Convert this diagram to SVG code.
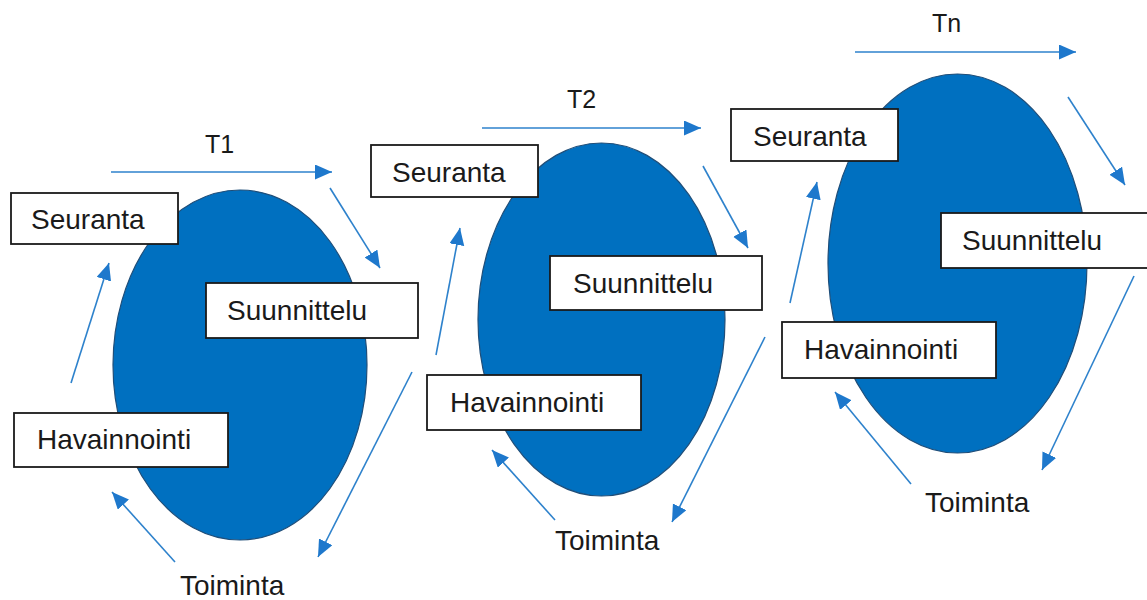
<svg xmlns="http://www.w3.org/2000/svg" width="1147" height="600" viewBox="0 0 1147 600">
  <style>
    .cycle { fill: #0070C0; stroke: #1F4E79; stroke-width: 1.2; }
    .box { fill: #FFFFFF; stroke: #1A1A1A; stroke-width: 1.8; }
    .lbl { font-family: "Liberation Sans", Arial, sans-serif; font-size: 28px; fill: #1A1A1A; }
    .tlbl { font-family: "Liberation Sans", Arial, sans-serif; font-size: 25px; fill: #1A1A1A; }
    .flow { stroke: #2E82CC; stroke-width: 1.6; fill: none; marker-end: url(#head); }
  </style>
  <defs>
    <marker id="head" markerUnits="userSpaceOnUse" markerWidth="18" markerHeight="16" refX="17" refY="7.5" orient="auto">
      <path d="M0,0 L17,7.5 L0,15 z" fill="#1E78CC"/>
    </marker>
  </defs>

  <rect width="1147" height="600" fill="#FFFFFF"/>

  <!-- cycle bodies -->
  <g id="cycle-1"><ellipse class="cycle" cx="240" cy="365" rx="127" ry="175"/></g>
  <g id="cycle-2"><ellipse class="cycle" cx="601.5" cy="319.5" rx="123.5" ry="176.5"/></g>
  <g id="cycle-n"><ellipse class="cycle" cx="957.5" cy="263.5" rx="129.5" ry="189.5"/></g>

  <!-- connectors -->
  <g id="connectors">
    <!-- cycle 1 -->
    <line class="flow" x1="111" y1="172" x2="332" y2="172"/>
    <line class="flow" x1="330" y1="188" x2="380" y2="268"/>
    <line class="flow" x1="412" y1="372" x2="318" y2="557"/>
    <line class="flow" x1="175" y1="562" x2="112" y2="492"/>
    <line class="flow" x1="71" y1="383" x2="109" y2="263"/>
    <!-- cycle 2 -->
    <line class="flow" x1="482" y1="128" x2="701" y2="128"/>
    <line class="flow" x1="703" y1="166" x2="748" y2="248"/>
    <line class="flow" x1="765" y1="337" x2="672" y2="522"/>
    <line class="flow" x1="555" y1="520" x2="492" y2="450"/>
    <line class="flow" x1="436" y1="355" x2="460" y2="228"/>
    <!-- cycle n -->
    <line class="flow" x1="855" y1="52" x2="1076" y2="52"/>
    <line class="flow" x1="1068" y1="97" x2="1125" y2="185"/>
    <line class="flow" x1="1134" y1="276" x2="1042" y2="470"/>
    <line class="flow" x1="911" y1="484" x2="835" y2="392"/>
    <line class="flow" x1="790" y1="303" x2="817" y2="182"/>
  </g>

  <!-- cycle 1 labels -->
  <g id="t1"><text class="tlbl" x="205" y="153">T1</text></g>
  <g id="seuranta-1">
    <rect class="box" x="11" y="193" width="167" height="51"/>
    <text class="lbl" x="31" y="229">Seuranta</text>
  </g>
  <g id="suunnittelu-1">
    <rect class="box" x="206" y="283" width="212" height="55"/>
    <text class="lbl" x="227" y="320">Suunnittelu</text>
  </g>
  <g id="havainnointi-1">
    <rect class="box" x="14" y="413" width="214" height="54"/>
    <text class="lbl" x="37" y="449">Havainnointi</text>
  </g>
  <g id="toiminta-1"><text class="lbl" x="180" y="595">Toiminta</text></g>

  <!-- cycle 2 labels -->
  <g id="t2"><text class="tlbl" x="567" y="108">T2</text></g>
  <g id="seuranta-2">
    <rect class="box" x="371" y="145" width="167" height="52"/>
    <text class="lbl" x="392" y="182">Seuranta</text>
  </g>
  <g id="suunnittelu-2">
    <rect class="box" x="550" y="256" width="212" height="54"/>
    <text class="lbl" x="573" y="293">Suunnittelu</text>
  </g>
  <g id="havainnointi-2">
    <rect class="box" x="427" y="375" width="214" height="55"/>
    <text class="lbl" x="450" y="412">Havainnointi</text>
  </g>
  <g id="toiminta-2"><text class="lbl" x="555" y="550">Toiminta</text></g>

  <!-- cycle n labels -->
  <g id="tn"><text class="tlbl" x="932" y="32">Tn</text></g>
  <g id="seuranta-n">
    <rect class="box" x="731" y="109" width="167" height="52"/>
    <text class="lbl" x="753" y="146">Seuranta</text>
  </g>
  <g id="suunnittelu-n">
    <rect class="box" x="941" y="213" width="212" height="55"/>
    <text class="lbl" x="962" y="250">Suunnittelu</text>
  </g>
  <g id="havainnointi-n">
    <rect class="box" x="782" y="322" width="214" height="56"/>
    <text class="lbl" x="804" y="359">Havainnointi</text>
  </g>
  <g id="toiminta-n"><text class="lbl" x="925" y="512">Toiminta</text></g>
</svg>
